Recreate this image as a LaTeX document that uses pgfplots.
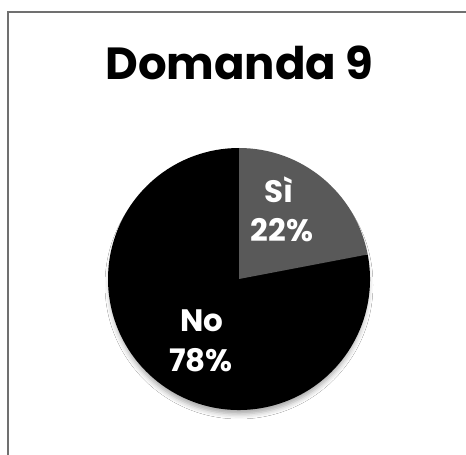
\documentclass[border=0pt]{standalone}
\usepackage{pgfplots}
\pgfplotsset{compat=1.18}
\usepackage{pgfplotstable}
\usepackage{fontspec}
\setmainfont{Poppins}
\usetikzlibrary{shadows.blur}
\definecolor{sigray}{HTML}{595959}
\definecolor{framegray}{HTML}{707070}
\pgfplotstableread{
label value
Si 22
No 78
}\piedata
\begin{document}
\begin{tikzpicture}
\pgfplotstablegetelem{0}{value}\of\piedata \let\vsi\pgfplotsretval
\pgfplotstablegetelem{1}{value}\of\piedata \let\vno\pgfplotsretval
\pgfmathsetmacro{\endang}{90-3.6*\vsi}
\begin{axis}[
  x=1pt, y=1pt, scale only axis,
  xmin=0, xmax=466, ymin=0, ymax=455,
  hide axis, clip=true,
]
\fill[white] (axis cs:0,0) rectangle (axis cs:466,455);
% frame
\draw[framegray, line width=2pt] (axis cs:8,0) -- (axis cs:8,443) -- (axis cs:470,443);
% pie
\fill[black, blur shadow={shadow xshift=0pt, shadow yshift=-6pt, shadow blur radius=5pt, shadow opacity=35}] (axis cs:239,176) circle[radius=129pt];
\fill[black] (axis cs:239,176) -- ++(\endang:131pt) arc[start angle=\endang, end angle=-270, radius=131pt] -- cycle;
\fill[sigray] (axis cs:239,176) -- ++(90:131pt) arc[start angle=90, end angle=\endang, radius=131pt] -- cycle;
% title
\node[anchor=base, font=\fontsize{45}{54}\selectfont\bfseries] at (axis cs:239.5,375) {Domanda 9};
% labels
\node[anchor=base, white, font=\fontsize{31}{38}\selectfont\bfseries] at (axis cs:279,252) {Sì};
\node[anchor=base, white, font=\fontsize{31}{38}\selectfont\bfseries] at (axis cs:282,213) {\vsi\%};
\node[anchor=base, white, font=\fontsize{31}{38}\selectfont\bfseries] at (axis cs:202,123) {No};
\node[anchor=base, white, font=\fontsize{31}{38}\selectfont\bfseries] at (axis cs:201,83) {\vno\%};
\end{axis}
\end{tikzpicture}
\end{document}
